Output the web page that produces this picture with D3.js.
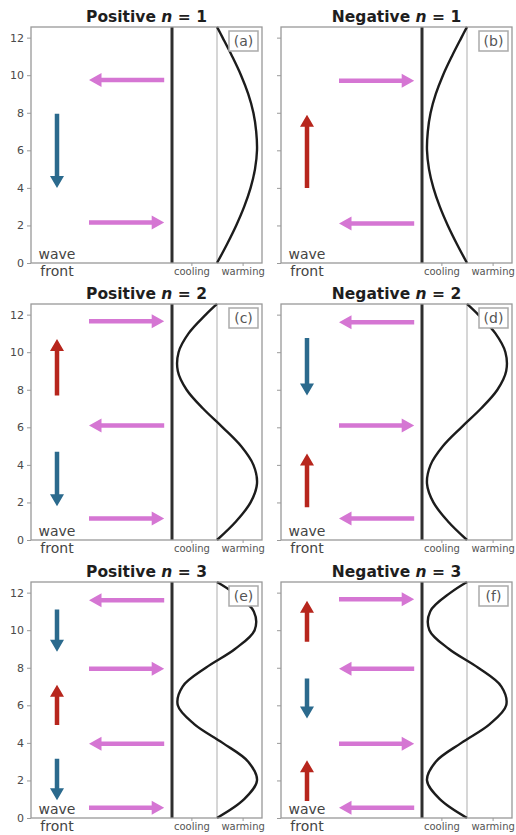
<!DOCTYPE html>
<html>
<head>
<meta charset="utf-8">
<script src="https://cdn.jsdelivr.net/npm/d3@7"></script>
<style>
  html, body { margin: 0; padding: 0; background: #fff; }
  svg { display: block; font-family: "DejaVu Sans", sans-serif; }
</style>
</head>
<body>
<svg id="chart" width="516" height="835"></svg>
<script>
// ---------------- DATA ----------------
const panelLabels = ["(a)", "(b)", "(c)", "(d)", "(e)", "(f)"];
const panelSigns = ["Positive", "Negative", "Positive", "Negative", "Positive", "Negative"];
const panelModes = [1, 1, 2, 2, 3, 3];
const yTicks = [0, 2, 4, 6, 8, 10, 12];
const xTickValues = [-0.64, 0.64];
const xTickLabels = ["cooling", "warming"];

// vertical profile heights and read-off heating profiles for each mode (positive sign)
const profileZ = [0, 1, 2, 3, 4, 5, 6, 7, 8, 9, 10, 11, 12, 12.57];
const profileMode1 = [0, 0.25, 0.48, 0.68, 0.84, 0.95, 1.0, 0.98, 0.91, 0.78, 0.60, 0.38, 0.14, 0];
const profileMode2 = [0, 0.48, 0.84, 1.0, 0.91, 0.60, 0.14, -0.35, -0.76, -0.98, -0.96, -0.71, -0.28, 0];
const profileMode3 = [0, 0.68, 1.0, 0.78, 0.14, -0.57, -0.98, -0.86, -0.28, 0.45, 0.94, 0.92, 0.41, 0];

// horizontal (pink) arrows: [height, direction (+1 right, -1 left)]
const horizArrows = [
  [[9.75, -1], [2.15, 1]],
  [[9.7, 1], [2.1, -1]],
  [[11.65, 1], [6.1, -1], [1.15, 1]],
  [[11.6, -1], [6.1, 1], [1.15, -1]],
  [[11.6, -1], [7.95, 1], [3.95, -1], [0.55, 1]],
  [[11.65, 1], [7.95, -1], [3.95, 1], [0.55, -1]]
];
// vertical arrows: [start height, end height]  (up = red, down = blue)
const vertArrows = [
  [[7.95, 4.0]],
  [[4.0, 7.9]],
  [[7.7, 10.7], [4.7, 1.8]],
  [[10.75, 7.7], [1.75, 4.6]],
  [[11.1, 8.85], [4.95, 7.1], [3.15, 0.94]],
  [[9.38, 11.57], [7.43, 5.3], [0.9, 3.07]]
];

// ---------------- LAYOUT ----------------
const colLeft = [31, 281];
const rowTop = [27, 304, 582];
const pw = 231, ph = 236;
const xDomain = [-4.65, 1.125];
const yDomain = [0, 12.566];
const coolLineX = -1.125;
const arrowTailX = -3.2, arrowTipX = -1.32, vertArrowX = -4.0;

const colors = { pink: "#d576d3", up: "#b7261d", down: "#2b6a8d" };

const svg = d3.select("#chart");

function arrowPath(x0, y0, x1, y1, shaftW, headW, headL) {
  const dx = x1 - x0, dy = y1 - y0;
  const L = Math.hypot(dx, dy);
  const ux = dx / L, uy = dy / L;
  const nx = -uy, ny = ux;
  const bx = x1 - ux * headL, by = y1 - uy * headL;
  const p = [
    [x0 + nx * shaftW / 2, y0 + ny * shaftW / 2],
    [bx + nx * shaftW / 2, by + ny * shaftW / 2],
    [bx + nx * headW / 2, by + ny * headW / 2],
    [x1, y1],
    [bx - nx * headW / 2, by - ny * headW / 2],
    [bx - nx * shaftW / 2, by - ny * shaftW / 2],
    [x0 - nx * shaftW / 2, y0 - ny * shaftW / 2]
  ];
  return "M" + p.map(q => q.join(",")).join("L") + "Z";
}

const profiles = { 1: profileMode1, 2: profileMode2, 3: profileMode3 };

panelLabels.forEach((lab, i) => {
  const col = i % 2, row = Math.floor(i / 2);
  const left = colLeft[col], top = rowTop[row];
  const x = d3.scaleLinear().domain(xDomain).range([left, left + pw]);
  const y = d3.scaleLinear().domain(yDomain).range([top + ph, top]);
  const g = svg.append("g");

  // title
  const t = g.append("text")
    .attr("x", left + pw / 2).attr("y", top - 5)
    .attr("text-anchor", "middle")
    .attr("font-size", 15.5).attr("font-weight", "bold").attr("fill", "#1e1e1e");
  t.append("tspan").text(panelSigns[i] + " ");
  t.append("tspan").attr("font-style", "italic").text("n");
  t.append("tspan").text(" = " + panelModes[i]);

  // y axis
  const yAx = d3.axisLeft(y).tickValues(yTicks).tickSize(4).tickPadding(3)
    .tickFormat(col === 0 ? d3.format("d") : () => "");
  const ya = g.append("g").attr("transform", `translate(${left},0)`).call(yAx);
  ya.select(".domain").remove();
  ya.selectAll("line").attr("stroke", "#9a9a9a");
  ya.selectAll("text").attr("font-size", 11).attr("fill", "#4a4a4a")
    .attr("font-family", "DejaVu Sans, sans-serif");

  // x axis
  const xAx = d3.axisBottom(x).tickValues(xTickValues).tickSize(3).tickPadding(2)
    .tickFormat((d, k) => xTickLabels[k]);
  const xa = g.append("g").attr("transform", `translate(0,${top + ph})`).call(xAx);
  xa.select(".domain").remove();
  xa.selectAll("line").attr("stroke", "#9a9a9a");
  xa.selectAll("text").attr("font-size", 10).attr("fill", "#555")
    .attr("font-family", "DejaVu Sans, sans-serif");

  // reference lines
  g.append("line").attr("x1", x(0)).attr("x2", x(0))
    .attr("y1", y(yDomain[0])).attr("y2", y(yDomain[1]))
    .attr("stroke", "#cccccc").attr("stroke-width", 1.6);
  g.append("line").attr("x1", x(coolLineX)).attr("x2", x(coolLineX))
    .attr("y1", y(yDomain[0])).attr("y2", y(yDomain[1]))
    .attr("stroke", "#2e2e2e").attr("stroke-width", 3);

  // profile curve
  const sgn = panelSigns[i] === "Positive" ? 1 : -1;
  const prof = profiles[panelModes[i]];
  const line = d3.line()
    .x((d, k) => x(sgn * prof[k]))
    .y(d => y(d))
    .curve(d3.curveCatmullRom.alpha(0.5));
  g.append("path").attr("d", line(profileZ))
    .attr("fill", "none").attr("stroke", "#1c1c1c").attr("stroke-width", 2.4);

  // horizontal arrows
  horizArrows[i].forEach(([h, dir]) => {
    const x0 = dir > 0 ? x(arrowTailX) : x(arrowTipX);
    const x1 = dir > 0 ? x(arrowTipX) : x(arrowTailX);
    g.append("path").attr("d", arrowPath(x0, y(h), x1, y(h), 4.5, 14, 12.5))
      .attr("fill", colors.pink);
  });

  // vertical arrows
  vertArrows[i].forEach(([h0, h1]) => {
    g.append("path")
      .attr("d", arrowPath(x(vertArrowX), y(h0), x(vertArrowX), y(h1), 4.5, 14, 12))
      .attr("fill", h1 > h0 ? colors.up : colors.down);
  });

  // wave front text
  g.append("text").attr("x", x(vertArrowX)).attr("y", y(0) - 4)
    .attr("text-anchor", "middle").attr("font-size", 14).attr("fill", "#444").text("wave");
  g.append("text").attr("x", x(vertArrowX)).attr("y", y(0) + 13)
    .attr("text-anchor", "middle").attr("font-size", 14).attr("fill", "#444").text("front");

  // frame
  g.append("rect").attr("x", left).attr("y", top).attr("width", pw).attr("height", ph)
    .attr("fill", "none").attr("stroke", "#999").attr("stroke-width", 1.3);

  // panel label box
  const bw = 29, bh = 20;
  const bx = left + pw - 4 - bw, by = top + 4;
  g.append("rect").attr("x", bx).attr("y", by).attr("width", bw).attr("height", bh)
    .attr("fill", "#fff").attr("stroke", "#aaa").attr("stroke-width", 1.5);
  g.append("text").attr("x", bx + bw / 2).attr("y", by + 15)
    .attr("text-anchor", "middle").attr("font-size", 14).attr("fill", "#555").text(lab);
});
</script>
</body>
</html>
